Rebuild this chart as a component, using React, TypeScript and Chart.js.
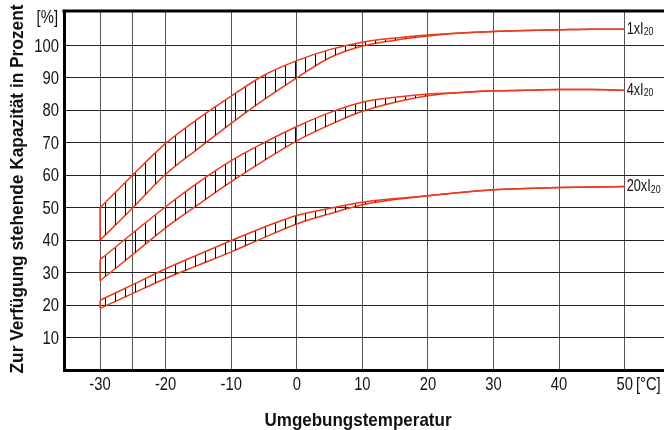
import React, { useEffect, useRef } from "react";
import { Chart, registerables } from "chart.js";

Chart.register(...registerables);

// ---- data ----
const temps = [-30, -25, -20, -15, -10, -5, 0, 5, 10, 15, 20, 25, 30, 35, 40, 45, 50];
const upper1 = [50, 60.1, 69.8, 77.5, 84.4, 90.8, 95.3, 98.7, 101, 102.3, 103.2, 103.8, 104.3, 104.6, 104.8, 105, 105];
const lower1 = [40, 50, 60.3, 68.3, 76, 83.3, 90, 96.2, 99.8, 101.6, 102.9, 103.8, 104.3, 104.6, 104.8, 105, 105];
const upper2 = [34, 42.2, 50.3, 57.8, 64.5, 70, 75, 79.3, 82.5, 84, 85, 85.5, 86, 86.2, 86.4, 86.4, 86.2];
const lower2 = [27.5, 35.6, 43.8, 51, 58, 64.5, 70.6, 75.5, 79.7, 82.5, 84.5, 85.5, 86, 86.2, 86.4, 86.4, 86.2];
const upper3 = [21.5, 26.3, 31.2, 35.6, 39.9, 44, 47.6, 49.8, 51.7, 52.8, 53.7, 54.7, 55.5, 55.9, 56.2, 56.4, 56.5];
const lower3 = [19, 23.6, 28.2, 32.3, 36.4, 40.8, 45, 48.1, 50.9, 52.5, 53.7, 54.7, 55.5, 55.9, 56.2, 56.4, 56.5];
const curveNames = ["1xI", "4xI", "20xI"];
const curveSub = "20";
const xTicks = [-30, -25, -20, -10, 0, 10, 20, 30, 40, 50];
const xHiddenLabels = [-25];
const yTicks = [10, 20, 30, 40, 50, 60, 70, 80, 90, 100];
const yUnit = "[%]";
const xUnit = "[°C]";
const yTitle = "Zur Verfügung stehende Kapazität in Prozent";
const xTitle = "Umgebungstemperatur";

const RED = "#ec3a1e";
const FONT = "'Liberation Sans', Arial, sans-serif";
const TXT = "#111";
const TICK_SIZE = 18.5;
const TICK_SX = 0.8;

function makePattern(): CanvasPattern | string {
  const c = document.createElement("canvas");
  c.width = 10;
  c.height = 10;
  const g = c.getContext("2d");
  if (!g) return "rgba(0,0,0,0.2)";
  g.fillStyle = "#000";
  g.fillRect(5, 0, 1, 10);
  const p = g.createPattern(c, "repeat");
  return p || "rgba(0,0,0,0.2)";
}

// draws horizontally condensed text (emulates a condensed typeface)
function condensed(
  ctx: CanvasRenderingContext2D,
  text: string,
  x: number,
  y: number,
  size: number,
  opts: {
    bold?: boolean;
    align?: CanvasTextAlign;
    baseline?: CanvasTextBaseline;
    sx?: number;
    fitWidth?: number;
    rotate?: number;
  } = {}
) {
  ctx.save();
  ctx.font = `${opts.bold ? "bold " : ""}${size}px ${FONT}`;
  ctx.fillStyle = TXT;
  ctx.textBaseline = opts.baseline || "middle";
  ctx.textAlign = opts.align || "left";
  let sx = opts.sx ?? TICK_SX;
  if (opts.fitWidth) sx = opts.fitWidth / ctx.measureText(text).width;
  ctx.translate(x, y);
  if (opts.rotate) ctx.rotate(opts.rotate);
  ctx.scale(sx, 1);
  ctx.fillText(text, 0, 0);
  const w = ctx.measureText(text).width * sx;
  ctx.restore();
  return w;
}

const overlay = {
  id: "overlay",
  afterDatasetsDraw(chart: any) {
    const { ctx, scales } = chart;
    const x = scales.x;
    const y = scales.y;
    ctx.save();
    for (let i = 0; i < 3; i++) {
      const pu = chart.getDatasetMeta(2 * i).data[0];
      const pl = chart.getDatasetMeta(2 * i + 1).data[0];
      ctx.strokeStyle = RED;
      ctx.lineWidth = 1.5;
      ctx.beginPath();
      ctx.moveTo(pu.x, pu.y);
      ctx.lineTo(pl.x, pl.y);
      ctx.stroke();
    }
    ctx.restore();
    const ups = [upper1, upper2, upper3];
    for (let i = 0; i < 3; i++) {
      const arr = ups[i];
      const px = x.getPixelForValue(temps[temps.length - 1]) + 2;
      const py = y.getPixelForValue(arr[arr.length - 1]);
      const w = condensed(ctx, curveNames[i], px, py, 17, { sx: 0.75 });
      condensed(ctx, curveSub, px + w, py + 3, 11, { sx: 0.8 });
    }
  },
  afterDraw(chart: any) {
    const { ctx, chartArea, scales } = chart;
    const x = scales.x;
    const y = scales.y;
    ctx.save();
    ctx.fillStyle = "#000";
    ctx.fillRect(chartArea.left - 1.5, chartArea.top - 1.5, chartArea.right - chartArea.left + 1.5, 3);
    ctx.restore();
    // y tick labels
    for (const v of yTicks) {
      condensed(ctx, String(v), chartArea.left - 5, y.getPixelForValue(v) + 1, TICK_SIZE, { align: "right" });
    }
    condensed(ctx, yUnit, chartArea.left - 6, chartArea.top + 7, TICK_SIZE, { align: "right" });
    // x tick labels
    const ly = x.top + 15;
    for (const v of xTicks) {
      if (xHiddenLabels.includes(v)) continue;
      condensed(ctx, String(v), x.getPixelForValue(v), ly, TICK_SIZE, { align: "center" });
    }
    const last = xTicks[xTicks.length - 1];
    ctx.save();
    ctx.font = `${TICK_SIZE}px ${FONT}`;
    const w = ctx.measureText(String(last)).width * TICK_SX;
    ctx.restore();
    condensed(ctx, xUnit, x.getPixelForValue(last) + w / 2 + 3, ly, TICK_SIZE, { align: "left" });
    // axis titles
    const cx = (chartArea.left + chartArea.right) / 2 - 6;
    condensed(ctx, xTitle, cx, 425.5, 18.5, {
      bold: true,
      align: "center",
      baseline: "alphabetic",
      fitWidth: 187,
    });
    const cy = (chartArea.top + chartArea.bottom) / 2 - 1.5;
    condensed(ctx, yTitle, 22.7, cy, 17.7, {
      bold: true,
      align: "center",
      baseline: "alphabetic",
      fitWidth: 369,
      rotate: -Math.PI / 2,
    });
  },
};

export default function App() {
  const ref = useRef<HTMLCanvasElement | null>(null);
  useEffect(() => {
    document.body.style.margin = "0";
    if (!ref.current) return;
    const pattern = makePattern();
    const pts = (arr: number[]) => temps.map((t, i) => ({ x: t, y: arr[i] }));
    const series = [upper1, lower1, upper2, lower2, upper3, lower3];
    const datasets = series.map((arr, i) => ({
      data: pts(arr),
      borderColor: RED,
      borderWidth: 1.5,
      pointRadius: 0,
      cubicInterpolationMode: "monotone" as const,
      fill: i % 2 === 0 ? "+1" : false,
      backgroundColor: pattern as any,
    }));
    const chart = new Chart(ref.current, {
      type: "line",
      data: { datasets },
      plugins: [overlay],
      options: {
        animation: false,
        responsive: false,
        layout: { padding: { top: 11, left: 0, right: 0, bottom: 0 } },
        plugins: { legend: { display: false }, tooltip: { enabled: false } },
        scales: {
          x: {
            type: "linear",
            min: -35.5,
            max: 56,
            afterBuildTicks: (s: any) => {
              s.ticks = xTicks.map((v) => ({ value: v }));
            },
            afterFit: (s: any) => {
              s.height = 60;
            },
            ticks: { display: false },
            grid: { color: "#555", lineWidth: 1, drawTicks: false },
            border: { display: true, color: "#000", width: 3 },
          },
          y: {
            type: "linear",
            min: 0,
            max: 110.6,
            afterBuildTicks: (s: any) => {
              s.ticks = yTicks.map((v) => ({ value: v }));
            },
            afterFit: (s: any) => {
              s.width = 64;
            },
            ticks: { display: false },
            grid: { color: "#222", lineWidth: 1, drawTicks: false },
            border: { display: true, color: "#000", width: 3 },
          },
        },
      },
    });
    return () => chart.destroy();
  }, []);
  return (
    <div style={{ width: 664, height: 430 }}>
      <canvas ref={ref} width={664} height={430} />
    </div>
  );
}
